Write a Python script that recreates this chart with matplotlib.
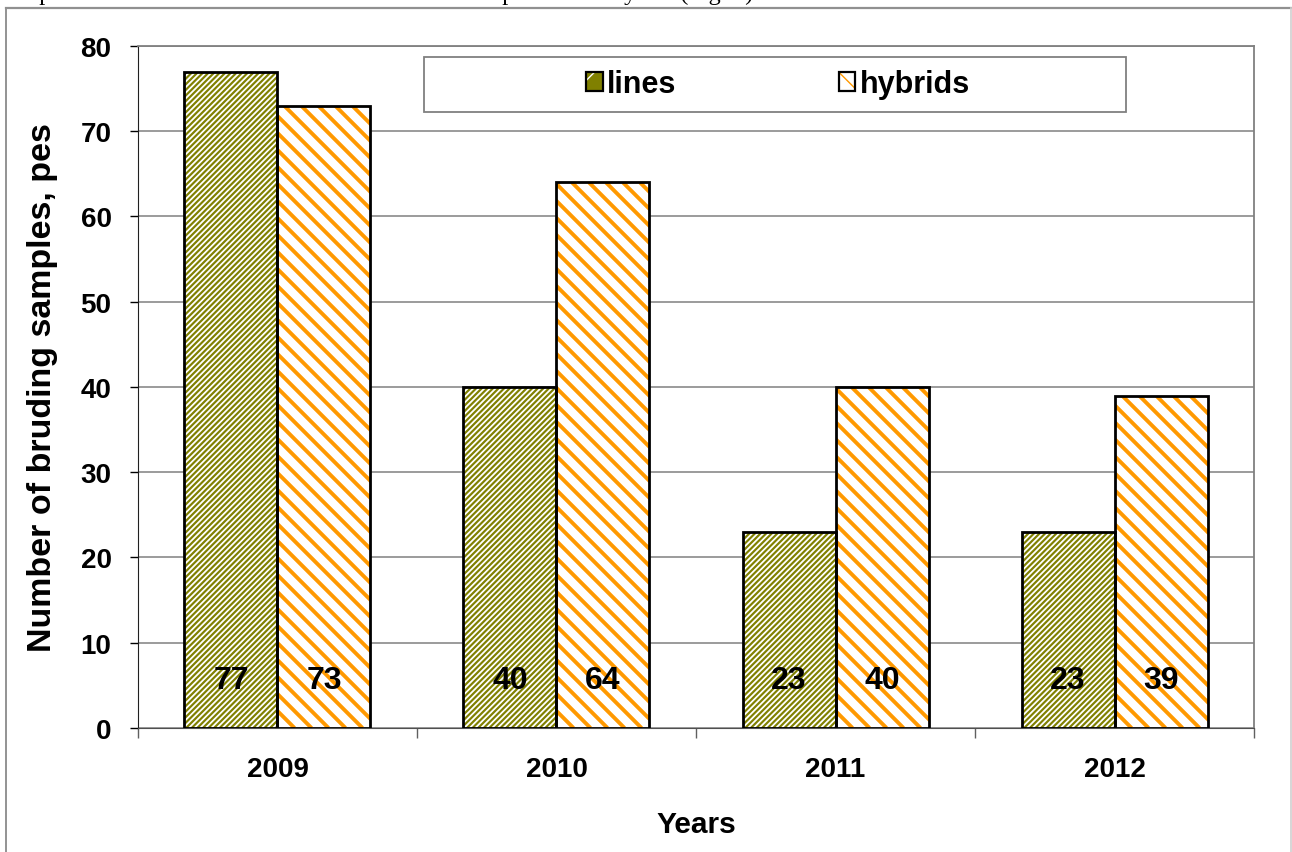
import numpy as np
import matplotlib
matplotlib.use('Agg')
import matplotlib.pyplot as plt
from matplotlib.patches import Patch, Rectangle
from matplotlib.lines import Line2D
from matplotlib.collections import LineCollection
from matplotlib.transforms import IdentityTransform
from matplotlib.legend_handler import HandlerTuple

# Dades
years = ['2009', '2010', '2011', '2012']
lines_vals = [77, 40, 23, 23]
hybrids_vals = [73, 64, 40, 39]
series_names = ['lines', 'hybrids']
yticks = [0, 10, 20, 30, 40, 50, 60, 70, 80]

olive = '#808000'
orange = '#FF9900'

plt.rcParams['font.family'] = ['Liberation Sans', 'DejaVu Sans']
plt.rcParams['font.weight'] = 'bold'

fig = plt.figure(figsize=(12.92, 8.53), dpi=100)
ax = fig.add_axes([0.1068, 0.1454, 0.8638, 0.7995])
ax.set_xlim(-0.5, len(years) - 0.5)
ax.set_ylim(0, 80)

x = np.arange(len(years))
w = 1 / 3


def stripes(bars, color, period, lw, sign):
    # ratllat diagonal dibuixat a partir de l'extensio de cada barra (en pixels)
    for b in bars:
        bb = b.get_window_extent()
        h = bb.height
        starts = np.arange(bb.x0 - h - period, bb.x1 + period, period)
        segs = []
        for s in starts:
            if sign > 0:
                segs.append([(s, bb.y0), (s + h, bb.y1)])
            else:
                segs.append([(s, bb.y1), (s + h, bb.y0)])
        lc = LineCollection(segs, colors=color, linewidths=lw,
                            transform=IdentityTransform(), zorder=2.5)
        ax.add_collection(lc, autolim=False)
        lc.set_clip_path(b)


b_lines = ax.bar(x - w / 2, lines_vals, w, color=olive, linewidth=0, zorder=2)
b_hyb = ax.bar(x + w / 2, hybrids_vals, w, color='white', linewidth=0, zorder=2)
stripes(b_lines, 'white', 5.6, 1.3, +1)
stripes(b_hyb, orange, 17, 2.8, -1)
ax.bar(x - w / 2, lines_vals, w, facecolor='none', edgecolor='black', linewidth=2.0, zorder=3)
ax.bar(x + w / 2, hybrids_vals, w, facecolor='none', edgecolor='black', linewidth=2.0, zorder=3)

# etiquetes dins les barres
for i in range(len(years)):
    ax.text(x[i] - w / 2, 5.6, str(lines_vals[i]), ha='center', va='center',
            fontsize=23, fontweight='bold', zorder=4)
    ax.text(x[i] + w / 2, 5.6, str(hybrids_vals[i]), ha='center', va='center',
            fontsize=23, fontweight='bold', zorder=4)

ax.set_yticks(yticks)
ax.tick_params(axis='y', labelsize=20, length=6, width=1, pad=13)
ax.set_xticks(x)
ax.set_xticklabels(years)
ax.tick_params(axis='x', which='major', length=0, labelsize=20, pad=20)
ax.set_xticks(np.arange(-0.5, len(years)), minor=True)
ax.tick_params(axis='x', which='minor', length=7, width=1, direction='out', color='#606060')

ax.yaxis.grid(True, color='#808080', linewidth=1.1, zorder=0)
ax.set_axisbelow(True)
for s in ['top', 'right']:
    ax.spines[s].set_color('#808080')
    ax.spines[s].set_linewidth(1.3)
ax.spines['left'].set_color('#202020')
ax.spines['bottom'].set_color('#505050')

ax.set_xlabel('Years', fontsize=21.5, fontweight='bold', labelpad=20)
ax.set_ylabel('Number of bruding samples, pes', fontsize=24.5, fontweight='bold', labelpad=16)

# llegenda
ax.add_patch(Rectangle((0.256, 0.903), 0.629, 0.081, transform=ax.transAxes,
                       facecolor='white', edgecolor='#808080', linewidth=1.3, zorder=5))
with plt.rc_context({'hatch.linewidth': 2.5}):
    h1 = Patch(facecolor=olive, edgecolor='white', hatch='/', linewidth=0)
    h2 = Patch(facecolor='white', edgecolor=orange, hatch='\\', linewidth=0)
for h in (h1, h2):
    if hasattr(h, 'set_hatch_linewidth'):
        h.set_hatch_linewidth(2.5)
box1 = Patch(facecolor='none', edgecolor='black', linewidth=1.6)
box2 = Patch(facecolor='none', edgecolor='black', linewidth=1.6)
leg = ax.legend([(h1, box1), (h2, box2)], series_names, loc='center',
                bbox_to_anchor=(0.5735, 0.944), ncol=2, frameon=False,
                handlelength=0.55, handleheight=0.6, handletextpad=0.15,
                columnspacing=5.3, prop={'weight': 'bold', 'size': 22},
                handler_map={tuple: HandlerTuple(ndivide=1, pad=0)})
leg.set_zorder(6)

# marc exterior i text retallat
fig.add_artist(Line2D([0.0046, 0.0046], [0.0, 0.9894], color='#808080', linewidth=1.2))
fig.add_artist(Line2D([0.0046, 0.999], [0.9894, 0.9894], color='#909090', linewidth=1.6))
fig.add_artist(Line2D([0.999, 0.999], [0.0, 0.9894], color='#d0d0d0', linewidth=1.2))
fig.text(0.0, 0.9995, 'samples out of the CMS lines set seeds after four reproduction cycles (Fig. 4).',
         fontsize=17.5, family='Liberation Serif', fontweight='normal', va='baseline', ha='left')

fig.savefig('out.png', dpi=100)
